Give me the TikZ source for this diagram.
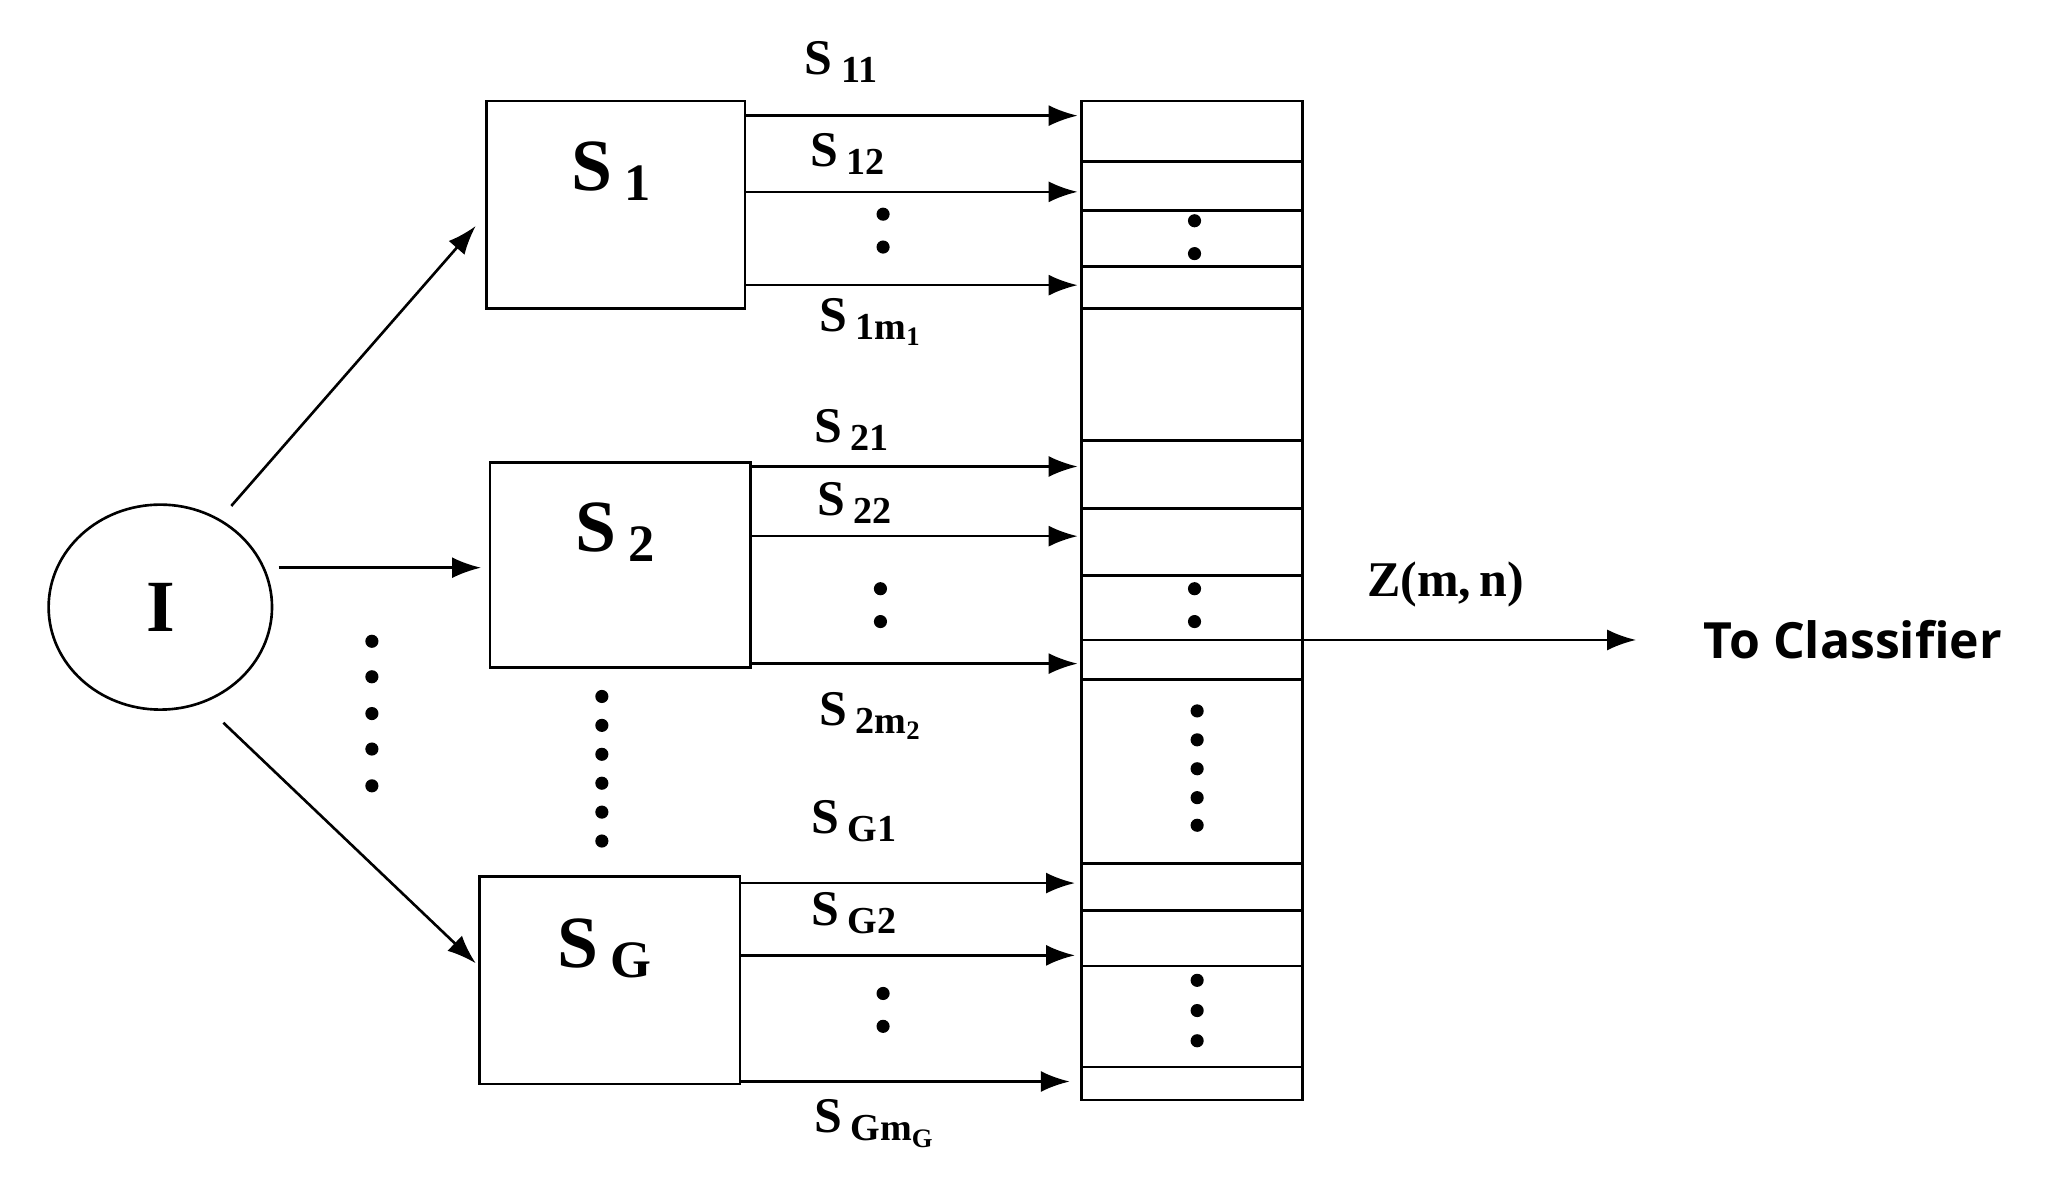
\documentclass[tikz,border=0pt]{standalone}
\usepackage{fontspec}
\setmainfont{Liberation Serif}
\newfontfamily\sansf{Open Sans}
\usetikzlibrary{arrows.meta,shapes.geometric}
\begin{document}
\begin{tikzpicture}[x=1pt,y=-1pt,
  box/.style={draw,line width=2pt},
  arr/.style={line width=2pt,-{Latex[length=22pt,width=16pt]}},
  lab/.style={font=\fontsize{38}{38}\selectfont\bfseries},
  big/.style={font=\fontsize{56}{56}\selectfont\bfseries},
  dot/.style={fill,circle,inner sep=0pt,minimum size=10pt}]
\useasboundingbox (0,0) rectangle (1560,909);
\node[draw,ellipse,line width=2pt,minimum width=170pt,minimum height=156pt,big] (I) at (122,462) {I};
\draw[box] (370,77) rectangle (567,235);
\draw[box] (373,352) rectangle (571,508);
\draw[box] (365,667) rectangle (563,825);
\node[big] (s1) at (465,130) {S\,\raisebox{-0.3ex}{\fontsize{40}{40}\selectfont 1}};
\node[big] (s2) at (468,405) {S\,\raisebox{-0.3ex}{\fontsize{40}{40}\selectfont 2}};
\node[big] (sg) at (460,722) {S\,\raisebox{-0.3ex}{\fontsize{40}{40}\selectfont G}};
\draw[box] (823,77) rectangle (991,837);
\foreach \y in {123,160,203,235,335,387,438,487,517,657,693,735,812}
  \draw[line width=2pt] (823,\y) -- (991,\y);
\foreach \xa/\y/\xb in {567/88/820,567/146/820,567/217/820,571/355/820,571/408/820,571/505/820,563/672/818,563/727/818,563/823/814}
  \draw[arr] (\xa,\y) coordinate (a) -- (\xb,\y) coordinate (b);
\coordinate (c1) at (176,385); \coordinate (t1) at (362,172);
\coordinate (c2) at (212,432); \coordinate (t2) at (366,432);
\coordinate (c3) at (170,550); \coordinate (t3) at (362,733);
\draw[arr] (c1) -- (t1); \draw[arr] (c2) -- (t2); \draw[arr] (c3) -- (t3);
\coordinate (o1) at (991,487); \coordinate (o2) at (1245,487);
\draw[arr] (o1) -- (o2);
\newcommand\sub[1]{\raisebox{-0.35ex}{\fontsize{29}{29}\selectfont #1}}
\node[lab] at (640,47) {S\,\sub{11}};
\node[lab] at (645,117) {S\,\sub{12}};
\node[lab] at (662,245) {S\,\sub{1m$_\mathbf{1}$}};
\node[lab] at (648,327) {S\,\sub{21}};
\node[lab] at (650,383) {S\,\sub{22}};
\node[lab] at (662,545) {S\,\sub{2m$_\mathbf{2}$}};
\node[lab] at (650,625) {S\,\sub{G1}};
\node[lab] at (650,695) {S\,\sub{G2}};
\node[lab] at (665,855) {S\,\sub{Gm$_\mathbf{G}$}};
\node[lab] at (1100,445) {Z(m,\,n)};
\node[font=\fontsize{38}{38}\selectfont\bfseries\sansf] at (1410,487) {To Classifier};
\foreach \x/\y in {672/163,672/188,670/448,670/473,672/756,672/781,909/168,909/193,909/448,909/473}
  \node[dot] at (\x,\y) {};
\foreach \y in {541,563,585,607,628} \node[dot] at (911,\y) {};
\foreach \y in {746,769,792} \node[dot] at (911,\y) {};
\foreach \y in {488,515,543,570,598} \node[dot] at (283,\y) {};
\foreach \y in {530,552,574,596,618,640} \node[dot] at (458,\y) {};
\end{tikzpicture}
\end{document}
